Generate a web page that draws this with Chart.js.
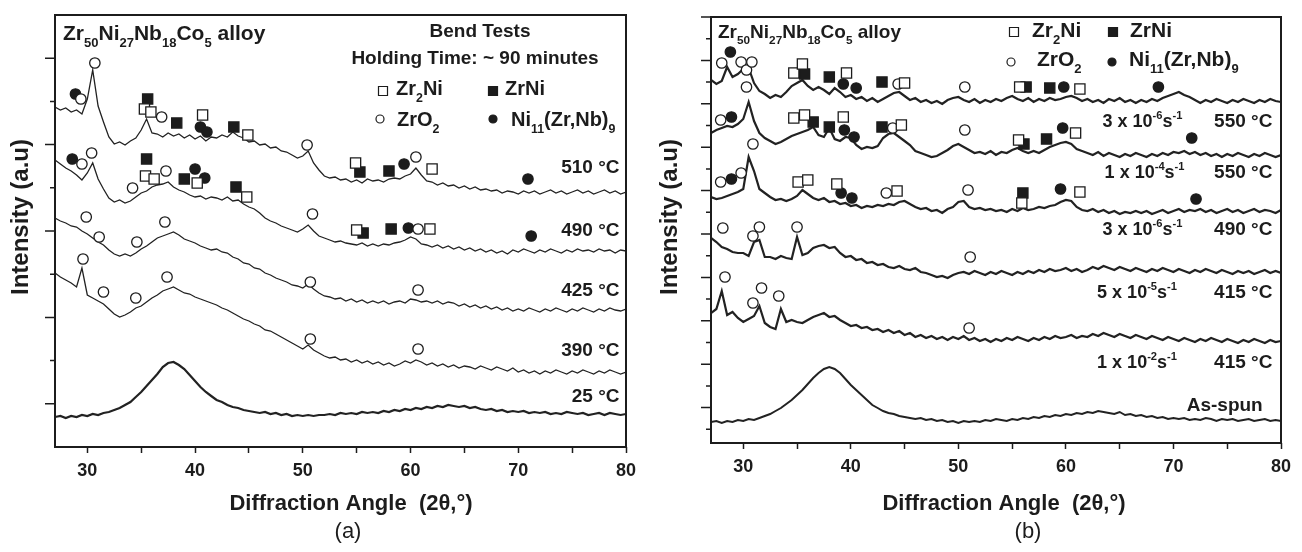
<!DOCTYPE html>
<html>
<head>
<meta charset="utf-8">
<script src="https://cdn.jsdelivr.net/npm/chart.js@4.4.1/dist/chart.umd.min.js"></script>
<style>
  html, body { margin: 0; padding: 0; background: #fff; }
  #wrap { position: relative; width: 1302px; height: 552px; overflow: hidden; }
  canvas { position: absolute; top: 0; }
  #chartA { left: 0; }
  #chartB { left: 651px; }
</style>
</head>
<body>
<div id="wrap">
  <canvas id="chartA" width="651" height="552"></canvas>
  <canvas id="chartB" width="651" height="552"></canvas>
</div>
<script>
/* ---------- DATA ---------- */
// diffraction angle grid (2 theta, degrees)
const angles = [
  27, 27.5, 28, 28.5, 29, 29.5, 30, 30.5, 31, 31.5,
  32, 32.5, 33, 33.5, 34, 34.5, 35, 35.5, 36, 36.5,
  37, 37.5, 38, 38.5, 39, 39.5, 40, 40.5, 41, 41.5,
  42, 42.5, 43, 43.5, 44, 44.5, 45, 45.5, 46, 46.5,
  47, 47.5, 48, 48.5, 49, 49.5, 50, 50.5, 51, 51.5,
  52, 52.5, 53, 53.5, 54, 54.5, 55, 55.5, 56, 56.5,
  57, 57.5, 58, 58.5, 59, 59.5, 60, 60.5, 61, 61.5,
  62, 62.5, 63, 63.5, 64, 64.5, 65, 65.5, 66, 66.5,
  67, 67.5, 68, 68.5, 69, 69.5, 70, 70.5, 71, 71.5,
  72, 72.5, 73, 73.5, 74, 74.5, 75, 75.5, 76, 76.5,
  77, 77.5, 78, 78.5, 79, 79.5, 80
];

// (a) bend tests, intensity (a.u., stacked)
const a510 = [
  340, 337, 339, 335, 337, 333, 348, 377, 341, 325,
  310, 303, 305, 302, 306, 309, 317, 328, 314, 313,
  310, 314, 311, 313, 309, 312, 308, 311, 306, 310,
  309, 312, 310, 315, 311, 309, 305, 306, 302, 303,
  299, 300, 296, 295, 292, 289, 291, 296, 284, 277,
  271, 269, 270, 267, 268, 265, 267, 264, 268, 266,
  267, 265, 268, 269, 268, 271, 273, 279, 272, 266,
  265, 262, 264, 261, 262, 259, 261, 258, 260, 257,
  258, 256, 257, 254, 256, 255, 253, 256, 254, 256,
  253, 255, 257, 254, 256, 253, 255, 257, 254, 256,
  253, 255, 257, 254, 256, 253, 255
];
const a490 = [
  287, 283, 279, 276, 272, 267, 274, 284, 268, 258,
  249, 245, 247, 244, 246, 250, 254, 256, 260, 262,
  263, 265, 260, 257, 255, 252, 250, 251, 248, 250,
  249, 247, 250, 246, 247, 243, 240, 238, 234, 229,
  226, 224, 221, 219, 217, 215, 218, 222, 216, 211,
  209, 207, 205, 206, 204, 203, 202, 204, 201, 203,
  201, 203, 202, 204, 205, 207, 210, 208, 203, 202,
  200, 202, 199, 201, 198, 200, 197, 199, 196, 198,
  195, 197, 194, 196, 193, 197, 195, 198, 196, 194,
  197, 195, 198, 196, 194, 197, 195, 198, 196, 197,
  195, 198, 196, 197, 194, 197, 196
];
const a425 = [
  229, 226, 224, 221, 220, 216, 213, 209, 205, 202,
  197, 193, 191, 193, 191, 194, 198, 201, 205, 209,
  211, 213, 215, 212, 208, 206, 204, 201, 199, 197,
  198, 195, 194, 190, 188, 184, 183, 179, 178, 174,
  172, 169, 167, 165, 162, 161, 159, 163, 158, 154,
  151, 150, 148, 149, 146, 148, 145, 147, 144, 146,
  144, 146, 143, 145, 146, 144, 148, 147, 145, 146,
  144, 146, 143, 145, 144, 141, 143, 140, 142, 139,
  141, 138, 140, 137, 139, 136, 138, 136, 139, 137,
  135, 138, 136, 139, 137, 135, 138, 136, 139, 137,
  135, 138, 136, 139, 137, 136, 138
];
const a390 = [
  174, 170, 167, 164, 160, 179, 152, 149, 146, 143,
  138, 133, 130, 132, 135, 139, 141, 145, 149, 152,
  156, 158, 160, 157, 154, 153, 150, 148, 146, 144,
  142, 139, 137, 134, 131, 128, 126, 123, 121, 117,
  116, 113, 110, 107, 104, 101, 98, 102, 97, 94,
  91, 89, 90, 87, 88, 85, 87, 84, 86, 83,
  85, 82, 84, 81, 83, 86, 84, 87, 85, 82,
  84, 81, 83, 80, 82, 79, 81, 80, 78, 81,
  79, 77, 80, 78, 76, 79, 75, 77, 74, 76,
  73, 76, 74, 77, 75, 73, 76, 74, 77, 75,
  73, 76, 74, 77, 75, 73, 75
];
const a25 = [
  30, 31, 29, 31, 30, 32, 31, 33, 32, 34,
  35, 37, 39, 42, 45, 50, 55, 61, 67, 73,
  80, 84, 85, 82, 78, 72, 66, 60, 55, 51,
  47, 45, 42, 40, 39, 37, 36, 35, 34, 35,
  33, 34, 32, 33, 31, 32, 31, 32, 31, 32,
  32, 33, 32, 34, 33, 34, 33, 35, 34, 35,
  34, 36, 35, 37, 36, 38, 37, 39, 38, 40,
  39, 41, 40, 42, 41, 40, 41, 39, 40, 38,
  37, 38, 36, 37, 35, 36, 35, 36, 34, 35,
  34, 35, 33, 34, 33, 35, 34, 33, 34, 32,
  33, 34, 32, 34, 33, 32, 33
];

// (b) strain-rate series, intensity (a.u., stacked)
const b550slow = [
  363, 359, 362, 376, 366, 369, 374, 375, 360, 352,
  349, 345, 348, 346, 351, 357, 360, 363, 357, 353,
  356, 353, 349, 355, 351, 346, 348, 344, 346, 342,
  345, 341, 344, 347, 350, 351, 347, 343, 345, 341,
  343, 340, 342, 339, 343, 345, 346, 343, 341, 344,
  340, 343, 341, 344, 342, 345, 347, 344, 342, 345,
  341, 344, 342, 345, 343, 344, 346, 347, 345, 342,
  344, 341, 343, 340, 344, 342, 345, 341, 343, 340,
  343, 341, 344, 342, 345, 347, 349, 351, 348, 346,
  343, 340, 343, 341, 344, 342, 340, 343, 341, 344,
  342, 340, 343, 341, 344, 342, 341
];
const b550fast = [
  310, 313, 315, 317, 316, 319, 324, 341, 322, 310,
  305, 302, 299, 301, 304, 307, 309, 311, 313, 316,
  308, 306, 315, 304, 302, 306, 305, 298, 294, 296,
  295, 297, 305, 309, 310, 306, 302, 298, 292, 290,
  288, 286, 287, 290, 293, 297, 299, 296, 293, 290,
  291, 289, 292, 288, 291, 290, 293, 295, 292, 290,
  292, 290, 293, 296, 298, 300, 301, 299, 294, 292,
  290, 288, 291, 287, 290, 288, 286, 289, 287, 290,
  288, 286, 289, 287, 290, 288, 291, 290, 292, 289,
  291, 288, 290, 287, 289, 286, 289, 287, 290, 288,
  286, 289, 287, 290, 288, 286, 288
];
const b490 = [
  246, 244, 245, 247, 249, 251, 254, 286, 272, 254,
  250, 246, 243, 244, 242, 244, 247, 253, 249, 245,
  243, 245, 241, 242, 239, 240, 237, 238, 235, 237,
  236, 238, 237, 239, 238, 241, 242, 239, 236, 234,
  235, 232, 233, 230, 234, 236, 241, 242, 236, 234,
  235, 233, 234, 232, 233, 231, 234, 232, 235, 233,
  234, 236, 235, 237, 238, 241, 243, 242, 236, 233,
  232, 234, 231, 233, 230, 232, 229, 231, 230, 232,
  230, 232, 229, 231, 233, 230, 232, 234, 231, 233,
  232, 234, 231, 233, 230, 232, 234, 231, 233, 230,
  232, 234, 231, 233, 232, 230, 233
];
const b415mid = [
  205, 201, 196, 194, 191, 190, 190, 187, 201, 203,
  186, 186, 184, 187, 185, 184, 206, 188, 190, 195,
  197, 198, 195, 196, 190, 186, 187, 183, 184, 180,
  181, 178, 179, 176, 175, 177, 174, 173, 175, 171,
  170, 168, 166, 167, 165, 168, 170, 171, 169, 172,
  170, 168, 171, 169, 172, 170, 168, 171, 169, 172,
  170, 173, 171, 174, 172, 173, 175, 172, 174, 171,
  173, 176, 174, 177, 175, 173, 176, 174, 172, 175,
  173, 171, 174, 172, 175, 173, 171, 174, 172, 170,
  173, 171, 174, 172, 170, 173, 171, 169, 172, 170,
  172, 169, 171, 173, 170, 172, 170
];
const b415fast = [
  130, 134, 152, 128, 131, 125, 121, 124, 127, 137,
  120, 116, 114, 134, 121, 123, 121, 120, 123, 126,
  128, 130, 126, 127, 123, 120, 117, 118, 115, 116,
  113, 114, 111, 113, 110, 112, 108, 110, 106, 108,
  105, 107, 104, 106, 103, 106, 104, 107, 103, 105,
  102, 104, 101, 104, 102, 105, 103, 106, 104, 102,
  105, 103, 106, 104, 107, 105, 106, 108, 105, 107,
  106, 109, 107, 110, 108, 106, 109, 107, 105, 108,
  106, 104, 107, 105, 103, 106, 104, 102, 105, 103,
  101, 104, 102, 105, 103, 101, 104, 102, 100, 103,
  101, 104, 102, 100, 103, 101, 102
];
const bAsSpun = [
  21, 22, 20, 22, 21, 23, 22, 24, 23, 25,
  27, 29, 32, 35, 39, 43, 48, 53, 59, 65,
  70, 74, 76, 74, 70, 64, 58, 53, 48, 43,
  38, 35, 32, 30, 29, 27, 26, 25, 24, 25,
  23, 24, 22, 23, 21, 22, 20, 22, 21, 22,
  21, 23, 22, 24, 23, 22, 24, 23, 25, 24,
  26, 25, 27, 26, 28, 27, 29, 28, 30, 29,
  31, 30, 32, 31, 30, 29, 31, 28, 29, 27,
  28, 26, 27, 25, 26, 24, 25, 24, 25, 23,
  24, 23, 25, 24, 22, 24, 23, 24, 22, 23,
  24, 22, 23, 24, 22, 23, 22
];

// phase markers [2theta, intensity]
const aZr2Ni = [[35.3, 338], [35.9, 335], [40.7, 332], [44.9, 312], [54.9, 284], [62.0, 278],
  [35.4, 271], [36.2, 268], [40.2, 264], [44.8, 250], [55.0, 217], [61.8, 218]];
const aZrNi = [[35.6, 348], [38.3, 324], [43.6, 320], [55.3, 275], [58.0, 276],
  [35.5, 288], [39.0, 268], [43.8, 260], [55.6, 214], [58.2, 218]];
const aZrO2 = [[29.4, 348], [30.7, 384], [36.9, 330], [50.4, 302], [60.5, 290],
  [29.5, 283], [30.4, 294], [34.2, 259], [37.3, 276], [50.9, 233], [60.7, 218],
  [29.9, 230], [31.1, 210], [34.6, 205], [37.2, 225], [50.7, 165], [60.7, 157],
  [29.6, 188], [31.5, 155], [34.5, 149], [37.4, 170], [50.7, 108], [60.7, 98]];
const aNi11 = [[28.9, 353], [40.5, 320], [41.1, 315], [59.4, 283], [70.9, 268],
  [28.6, 288], [40.0, 278], [40.9, 269], [59.8, 219], [71.2, 211]];

const bZr2Ni = [[34.7, 370], [35.5, 379], [39.6, 370], [45.0, 360], [55.7, 356], [61.3, 354],
  [34.7, 325], [35.7, 328], [39.3, 326], [44.7, 318], [55.6, 303], [60.9, 310],
  [35.1, 261], [36.0, 263], [38.7, 259], [44.3, 252], [55.9, 240], [61.3, 251]];
const bZrNi = [[35.7, 369], [38.0, 366], [42.9, 361], [56.3, 356], [58.5, 355],
  [36.5, 321], [38.0, 316], [42.9, 316], [56.1, 299], [58.2, 304],
  [56.0, 250]];
const bZrO2 = [[28.0, 380], [29.8, 381], [30.3, 373], [30.8, 381], [44.4, 359], [50.6, 356],
  [27.9, 323], [30.3, 356], [43.9, 315], [50.6, 313],
  [27.9, 261], [29.8, 270], [30.9, 299], [43.3, 250], [50.9, 253],
  [28.1, 215], [30.9, 207], [31.5, 216], [35.0, 216], [51.1, 186],
  [28.3, 166], [30.9, 140], [31.7, 155], [33.3, 147], [51.0, 115]];
const bNi11 = [[28.8, 391], [39.3, 359], [40.5, 355], [59.8, 356], [68.6, 356],
  [28.9, 326], [39.4, 313], [40.3, 306], [59.7, 315], [71.7, 305],
  [28.9, 264], [39.1, 250], [40.1, 245], [59.5, 254], [72.1, 244]];

// ticks and labels
const xTickValues = [30, 35, 40, 45, 50, 55, 60, 65, 70, 75, 80];
const xLabelValues = [30, 40, 50, 60, 70, 80];
const xTickLabels = ['30', '40', '50', '60', '70', '80'];
const aYMajor = [43.2, 129.6, 216, 302.4, 388.8];
const aYMinor = [86.4, 172.8, 259.2, 345.6];
const bYMajor = [426, 382.6, 339.2, 295.8, 252.4, 209, 165.6, 122.2, 78.8, 35.4];
const bYMinor = [404.3, 360.9, 317.5, 274.1, 230.7, 187.3, 143.9, 100.5, 57.1, 13.7];

const alloyName = 'Zr_{50}Ni_{27}Nb_{18}Co_{5} alloy';
const phaseNames = ['Zr_{2}Ni', 'ZrNi', 'ZrO_{2}', 'Ni_{11}(Zr,Nb)_{9}'];
const aNotes = ['Bend Tests', 'Holding Time: ~ 90 minutes'];
const aTempLabels = ['510 °C', '490 °C', '425 °C', '390 °C', '25 °C'];
const bRateLabels = ['3 x 10^{-6}s^{-1}', '1 x 10^{-4}s^{-1}', '3 x 10^{-6}s^{-1}', '5 x 10^{-5}s^{-1}', '1 x 10^{-2}s^{-1}'];
const bTempLabels = ['550 °C', '550 °C', '490 °C', '415 °C', '415 °C'];
const bBottomLabel = 'As-spun';
const xTitle = 'Diffraction Angle  (2θ,°)';
const yTitle = 'Intensity (a.u)';

/* ---------- HELPERS ---------- */
const FONT = '"Liberation Sans", Arial, Helvetica, sans-serif';
const INK = '#1c1c1c';
Chart.defaults.font.family = FONT;

// split "Zr_{2}Ni" / "10^{-6}" into normal, subscript and superscript parts
function richParts(text) {
  const parts = [];
  const re = /([_^])\{([^}]*)\}/g;
  let last = 0, m;
  while ((m = re.exec(text))) {
    if (m.index > last) parts.push({ t: text.slice(last, m.index), mode: 0 });
    parts.push({ t: m[2], mode: m[1] === '_' ? 1 : 2 });
    last = re.lastIndex;
  }
  if (last < text.length) parts.push({ t: text.slice(last), mode: 0 });
  return parts;
}

function drawText(ctx, text, x, y, size, align, weight) {
  const parts = richParts(text);
  let total = 0;
  parts.forEach((p) => {
    p.size = p.mode ? size * 0.62 : size;
    ctx.font = weight + ' ' + p.size + 'px ' + FONT;
    p.w = ctx.measureText(p.t).width;
    total += p.w;
  });
  let cx = align === 'right' ? x - total : align === 'center' ? x - total / 2 : x;
  ctx.textAlign = 'left';
  ctx.textBaseline = 'alphabetic';
  ctx.fillStyle = INK;
  parts.forEach((p) => {
    ctx.font = weight + ' ' + p.size + 'px ' + FONT;
    const dy = p.mode === 1 ? size * 0.33 : p.mode === 2 ? -size * 0.42 : 0;
    ctx.fillText(p.t, cx, y + dy);
    cx += p.w;
  });
}

function legendMark(ctx, idx, x, y) {
  ctx.beginPath();
  if (idx < 2) ctx.rect(x - 4.5, y - 4.5, 9, 9);
  else ctx.arc(x, y, 4, 0, Math.PI * 2);
  ctx.fillStyle = idx === 1 || idx === 3 ? INK : '#fff';
  ctx.fill();
  ctx.lineWidth = 1.2;
  ctx.strokeStyle = INK;
  ctx.stroke();
}

function drawFrame(chart, major, minor) {
  const ctx = chart.ctx, area = chart.chartArea, ys = chart.scales.y;
  ctx.strokeStyle = INK;
  ctx.lineWidth = 2;
  ctx.strokeRect(area.left, area.top, area.right - area.left, area.bottom - area.top);
  ctx.lineWidth = 1.5;
  ctx.beginPath();
  major.forEach((v) => { const y = ys.getPixelForValue(v); ctx.moveTo(area.left - 10, y); ctx.lineTo(area.left, y); });
  minor.forEach((v) => { const y = ys.getPixelForValue(v); ctx.moveTo(area.left - 5, y); ctx.lineTo(area.left, y); });
  ctx.stroke();
}

function drawAxisTitles(ctx, cx, panelTag, tagX, yTitleX) {
  drawText(ctx, xTitle, cx, 510, 22, 'center', 'bold');
  drawText(ctx, panelTag, tagX, 538, 22, 'center', 'normal');
  ctx.save();
  ctx.translate(yTitleX, 217);
  ctx.rotate(-Math.PI / 2);
  drawText(ctx, yTitle, 0, 0, 24, 'center', 'bold');
  ctx.restore();
}

function drawPanelA(chart) {
  const ctx = chart.ctx, xs = chart.scales.x, ys = chart.scales.y;
  ctx.save();
  drawFrame(chart, aYMajor, aYMinor);
  drawText(ctx, alloyName, 63, 40, 21, 'left', 'bold');
  drawText(ctx, aNotes[0], 480, 37, 19, 'center', 'bold');
  drawText(ctx, aNotes[1], 475, 64, 19, 'center', 'bold');
  const lx = [[383, 396], [493, 505], [380, 397], [493, 511]];
  const ly = [[91, 95], [91, 95], [119, 126], [119, 126]];
  phaseNames.forEach((n, i) => {
    legendMark(ctx, i, lx[i][0], ly[i][0]);
    drawText(ctx, n, lx[i][1], ly[i][1], 20, 'left', 'bold');
  });
  const levels = [274, 211, 151, 91, 45];
  aTempLabels.forEach((s, i) => {
    drawText(ctx, s, xs.getPixelForValue(79.4), ys.getPixelForValue(levels[i]), 19, 'right', 'bold');
  });
  drawAxisTitles(ctx, 351, '(a)', 348, 28);
  ctx.restore();
}

function drawPanelB(chart) {
  const ctx = chart.ctx, xs = chart.scales.x, ys = chart.scales.y;
  ctx.save();
  drawFrame(chart, bYMajor, bYMinor);
  drawText(ctx, alloyName, 67, 38, 19, 'left', 'bold');
  const lx = [[363, 381], [462, 479], [360, 386], [461, 478]];
  const ly = [[32, 37], [32, 37], [62, 66], [62, 66]];
  phaseNames.forEach((n, i) => {
    legendMark(ctx, i, lx[i][0], ly[i][0]);
    drawText(ctx, n, lx[i][1], ly[i][1], 21, 'left', 'bold');
  });
  const levels = [316, 265, 208, 145, 75];
  const starts = [63.4, 63.6, 63.4, 62.9, 62.9];
  bRateLabels.forEach((s, i) => {
    const y = ys.getPixelForValue(levels[i]);
    drawText(ctx, s, xs.getPixelForValue(starts[i]), y, 18, 'left', 'bold');
    drawText(ctx, bTempLabels[i], xs.getPixelForValue(79.2), y, 19, 'right', 'bold');
  });
  drawText(ctx, bBottomLabel, xs.getPixelForValue(78.3), ys.getPixelForValue(32), 19, 'right', 'bold');
  drawAxisTitles(ctx, 353, '(b)', 377, 26);
  ctx.restore();
}

const markerStyles = [
  { pointStyle: 'rect', pointRadius: 7.2, backgroundColor: '#fff' },
  { pointStyle: 'rect', pointRadius: 7.2, backgroundColor: INK },
  { pointStyle: 'circle', pointRadius: 5.2, backgroundColor: '#fff' },
  { pointStyle: 'circle', pointRadius: 5.2, backgroundColor: INK }
];

function buildChart(panel) {
  const datasets = [];
  panel.markers.forEach((pts, i) => {
    datasets.push(Object.assign({
      data: pts.map((p) => ({ x: p[0], y: p[1] })),
      borderColor: INK,
      borderWidth: 1.3,
      showLine: false,
      order: 0
    }, markerStyles[i]));
  });
  panel.curves.forEach((vals, i) => {
    datasets.push({
      data: angles.map((a, k) => ({ x: a, y: vals[k] })),
      showLine: true,
      pointRadius: 0,
      borderColor: '#222',
      borderWidth: panel.widths[i],
      order: 1
    });
  });

  return new Chart(document.getElementById(panel.canvas), {
    type: 'scatter',
    data: { datasets },
    options: {
      responsive: false,
      animation: false,
      events: [],
      layout: { padding: { left: 0, top: panel.top, right: panel.right, bottom: 0 } },
      plugins: { legend: { display: false }, tooltip: { enabled: false } },
      scales: {
        x: {
          type: 'linear',
          min: 27,
          max: 80,
          afterBuildTicks: (s) => { s.ticks = xTickValues.map((v) => ({ value: v })); },
          afterFit: (s) => { s.height = panel.xAxisHeight; },
          grid: { drawOnChartArea: false, drawTicks: true, tickLength: 6, tickWidth: 1.5, tickColor: INK },
          border: { display: false },
          ticks: {
            autoSkip: false,
            maxRotation: 0,
            padding: 7,
            color: INK,
            font: { family: FONT, size: 18, weight: 'bold' },
            callback: (v) => {
              const i = xLabelValues.indexOf(v);
              return i >= 0 ? xTickLabels[i] : '';
            }
          }
        },
        y: {
          min: 0,
          max: panel.yMax,
          afterFit: (s) => { s.width = panel.yAxisWidth; },
          grid: { display: false },
          border: { display: false },
          ticks: { display: false }
        }
      }
    },
    plugins: [{ id: 'extras' + panel.canvas, afterDraw: panel.draw }]
  });
}

/* ---------- CHARTS ---------- */
buildChart({
  canvas: 'chartA', yMax: 432, top: 15, right: 25, yAxisWidth: 55, xAxisHeight: 105,
  curves: [a510, a490, a425, a390, a25],
  widths: [1.3, 1.3, 1.3, 1.3, 2.2],
  markers: [aZr2Ni, aZrNi, aZrO2, aNi11],
  draw: drawPanelA
});

buildChart({
  canvas: 'chartB', yMax: 426, top: 17, right: 21, yAxisWidth: 60, xAxisHeight: 109,
  curves: [b550slow, b550fast, b490, b415mid, b415fast, bAsSpun],
  widths: [2.2, 2.2, 2.2, 2.2, 2.2, 2],
  markers: [bZr2Ni, bZrNi, bZrO2, bNi11],
  draw: drawPanelB
});
</script>
</body>
</html>
